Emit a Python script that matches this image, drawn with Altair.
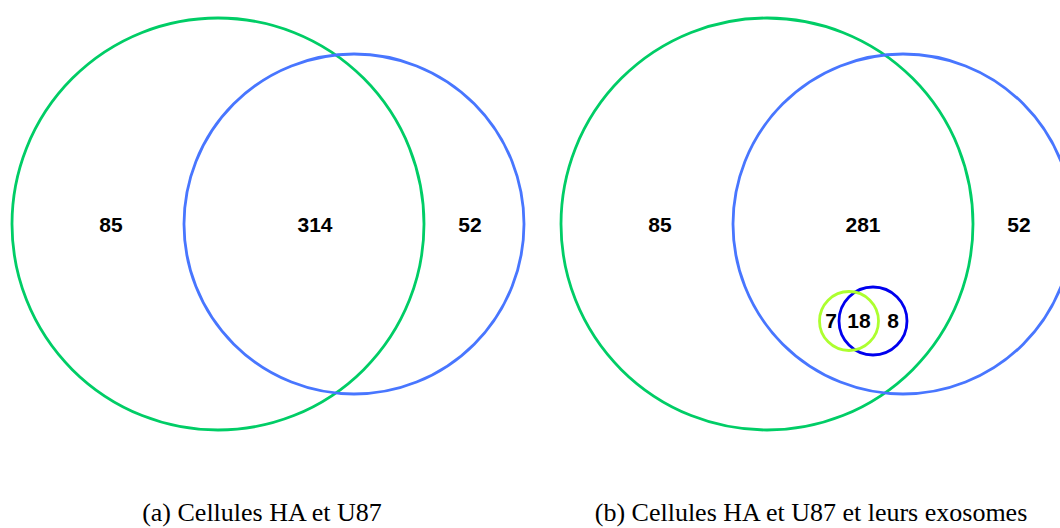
import altair as alt
import pandas as pd

W, H = 1060, 528

# Venn sets: panel, centre (x, y), radius, outline colour
set_names = ["HA", "U87", "HA", "U87", "HA exosomes", "U87 exosomes"]
set_cx = [218, 354, 767, 903, 849, 873]
set_cy = [224, 224, 224, 224, 321, 321]
set_r = [206, 170, 206, 170, 29.5, 34]
set_color = ["#00CD66", "#4876FF", "#00CD66", "#4876FF", "#ADFF2F", "#0000EE"]

# Region counts and where they sit
count_text = ["85", "314", "52", "85", "281", "52", "7", "18", "8"]
count_x = [111, 315, 470, 660, 863, 1019, 831, 859, 893]
count_y = [232, 232, 232, 232, 232, 232, 328, 328, 328]

# Sub-figure captions
caption_text = ["(a) Cellules HA et U87", "(b) Cellules HA et U87 et leurs exosomes"]
caption_x = [262, 811]
caption_y = [521, 521]

circles = pd.DataFrame({
    "name": set_names, "cx": set_cx, "cy": set_cy,
    "size": [(2 * r) ** 2 for r in set_r], "color": set_color,
})
counts = pd.DataFrame({"label": count_text, "x": count_x, "y": count_y})
captions = pd.DataFrame({"label": caption_text, "x": caption_x, "y": caption_y})

xs = alt.Scale(domain=[0, W], nice=False, zero=False)
ys = alt.Scale(domain=[0, H], nice=False, zero=False, reverse=True)

rings = alt.Chart(circles).mark_point(
    shape="circle", filled=False, strokeWidth=2.8, opacity=1
).encode(
    x=alt.X("cx:Q", scale=xs, axis=None),
    y=alt.Y("cy:Q", scale=ys, axis=None),
    size=alt.Size("size:Q", scale=None, legend=None),
    stroke=alt.Stroke("color:N", scale=None, legend=None),
    order=alt.Order("size:Q", sort="descending"),
)

numbers = alt.Chart(counts).mark_text(
    font="Liberation Sans", fontWeight="bold", fontSize=21,
    baseline="alphabetic", align="center", color="black",
).encode(
    x=alt.X("x:Q", scale=xs, axis=None),
    y=alt.Y("y:Q", scale=ys, axis=None),
    text="label:N",
)

titles = alt.Chart(captions).mark_text(
    font="Liberation Serif", fontSize=26,
    baseline="alphabetic", align="center", color="black",
).encode(
    x=alt.X("x:Q", scale=xs, axis=None),
    y=alt.Y("y:Q", scale=ys, axis=None),
    text="label:N",
)

chart = alt.layer(rings, numbers, titles).properties(
    width=W, height=H,
    autosize=alt.AutoSizeParams(type="none"),
    padding=0,
    background="white",
).configure_view(stroke=None)

chart.save("out.html", embed_options={"renderer": "svg", "actions": False})
